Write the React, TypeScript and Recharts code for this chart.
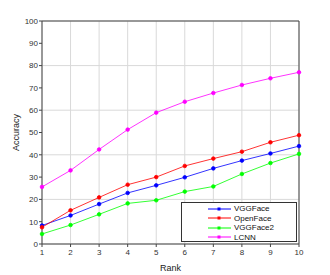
import { LineChart, Line, XAxis, YAxis, CartesianGrid, ReferenceLine, Label } from 'recharts';

const ranks = [1, 2, 3, 4, 5, 6, 7, 8, 9, 10];
const vggFace = [8.3, 12.8, 17.9, 22.9, 26.3, 29.9, 33.9, 37.4, 40.6, 43.9];
const openFace = [7.5, 15.1, 20.9, 26.6, 30.0, 35.0, 38.3, 41.4, 45.6, 48.8];
const vggFace2 = [4.5, 8.5, 13.3, 18.2, 19.6, 23.5, 25.8, 31.4, 36.3, 40.4];
const lcnn = [25.6, 33.0, 42.4, 51.3, 58.9, 63.8, 67.7, 71.3, 74.3, 77.0];
const yTicks = [0, 10, 20, 30, 40, 50, 60, 70, 80, 90, 100];

const series = [
  { key: 'VGGFace', color: '#0000ff' },
  { key: 'OpenFace', color: '#ff0000' },
  { key: 'VGGFace2', color: '#00ff00' },
  { key: 'LCNN', color: '#ff00ff' },
];

const data = ranks.map((r, i) => ({
  rank: r,
  VGGFace: vggFace[i],
  OpenFace: openFace[i],
  VGGFace2: vggFace2[i],
  LCNN: lcnn[i],
}));

const font = '"Liberation Sans", Arial, sans-serif';

function LegendBox() {
  return (
    <div style={{ position: 'absolute', left: 181, top: 202, border: '1px solid #333', background: '#fff', width: 116, height: 40, boxSizing: 'border-box', paddingTop: 1, fontFamily: font, fontSize: 8, lineHeight: '9.5px', color: '#111' }}>
      {series.map(s => (
        <div key={s.key} style={{ display: 'flex', alignItems: 'center', height: 9.5 }}>
          <svg width={51} height={8} style={{ display: 'block' }}>
            <line x1={26} y1={4} x2={49} y2={4} stroke={s.color} strokeWidth={1} />
            <rect x={35.5} y={2.5} width={3} height={3} fill={s.color} />
          </svg>
          <span style={{ marginLeft: 1 }}>{s.key}</span>
        </div>
      ))}
    </div>
  );
}

export default function App() {
  return (
    <div style={{ position: 'fixed', left: 0, top: 0, width: 330, height: 275, background: '#fff' }}>
      <LineChart width={330} height={275} data={data} margin={{ top: 21, right: 31, bottom: 0, left: 0 }}>
        <CartesianGrid stroke="#d9d9d9" />
        <XAxis dataKey="rank" type="number" domain={[1, 10]} ticks={ranks} height={31}
          stroke="#444" tickSize={3} tick={{ fontSize: 8, fill: '#333', fontFamily: font }} tickMargin={2}>
          <Label value="Rank" position="insideBottom" offset={4} style={{ fontSize: 9, fill: '#222', fontFamily: font }} />
        </XAxis>
        <YAxis type="number" domain={[0, 100]} ticks={yTicks} width={42}
          stroke="#444" tickSize={3} tick={{ fontSize: 8, fill: '#333', fontFamily: font }} tickMargin={1}>
          <Label value="Accuracy" angle={-90} position="insideLeft" offset={16} style={{ fontSize: 9, fill: '#222', fontFamily: font, textAnchor: 'middle' }} />
        </YAxis>
        <ReferenceLine y={100} stroke="#444" />
        <ReferenceLine x={10} stroke="#444" />
        {series.map(s => (
          <Line key={s.key} type="linear" dataKey={s.key} stroke={s.color} strokeWidth={0.8}
            dot={{ r: 1.8, fill: s.color, stroke: s.color }} isAnimationActive={false} />
        ))}
      </LineChart>
      <LegendBox />
    </div>
  );
}
